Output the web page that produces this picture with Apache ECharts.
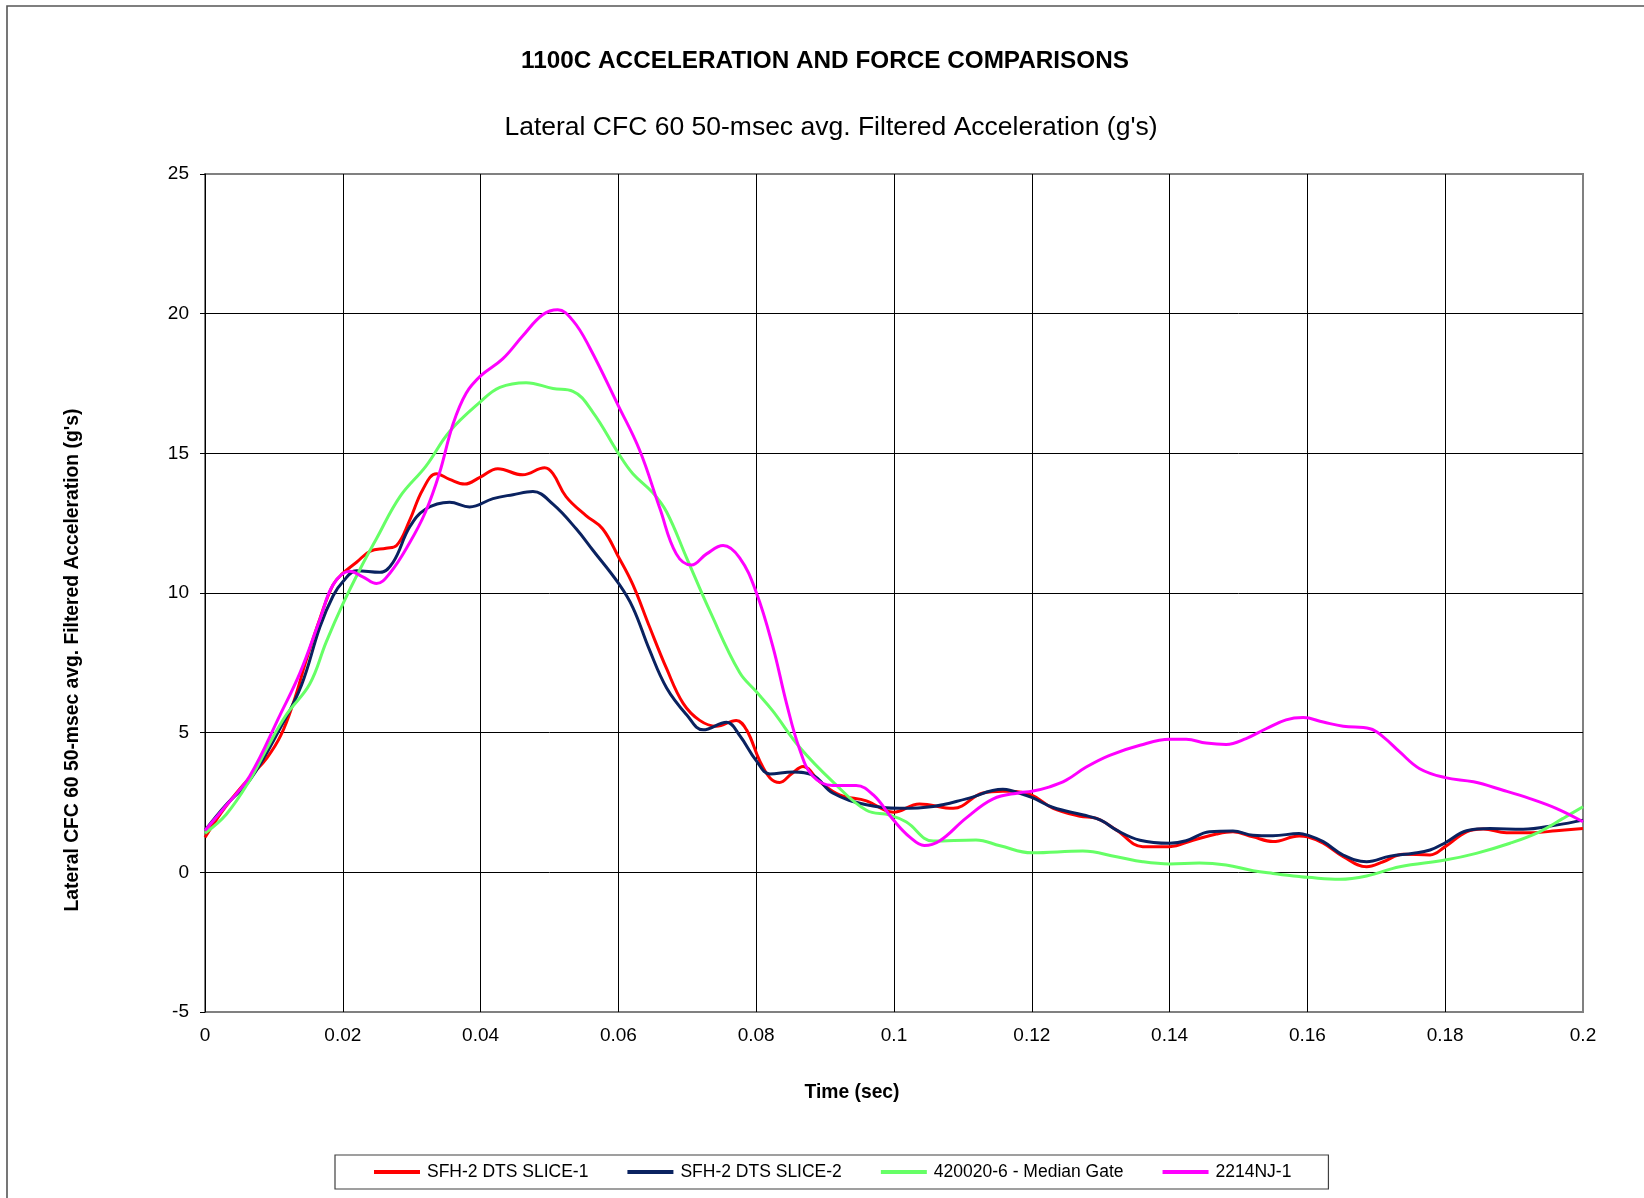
<!DOCTYPE html>
<html>
<head>
<meta charset="utf-8">
<script src="https://cdn.jsdelivr.net/npm/echarts@6/dist/echarts.min.js"></script>
<style>
html,body{margin:0;padding:0;background:#fff;}
#chart{width:1644px;height:1198px;}
</style>
</head>
<body>
<div id="chart"></div>
<script>
// ---- Data ----
const seriesNames = ['SFH-2 DTS SLICE-1', 'SFH-2 DTS SLICE-2', '420020-6 - Median Gate', '2214NJ-1'];
const xTicks = [0, 0.02, 0.04, 0.06, 0.08, 0.1, 0.12, 0.14, 0.16, 0.18, 0.2];
const yTicks = [-5, 0, 5, 10, 15, 20, 25];

const slice1Time = [0,0.003,0.0065,0.009,0.011,0.0128,0.0147,0.0167,0.0186,0.02,0.022,0.024,0.0263,0.0278,0.0297,0.0316,0.0336,0.0355,0.0377,0.0399,0.0425,0.0461,0.0493,0.0505,0.0524,0.0553,0.0577,0.06,0.0621,0.0645,0.067,0.0694,0.0718,0.0742,0.0771,0.0786,0.0805,0.082,0.0834,0.0851,0.0868,0.0892,0.0921,0.096,0.0999,0.1037,0.1086,0.1129,0.1158,0.1168,0.12,0.1231,0.127,0.1294,0.1323,0.1361,0.14,0.1434,0.1468,0.1492,0.1521,0.155,0.1588,0.16,0.1623,0.1652,0.1686,0.171,0.1739,0.1778,0.18,0.1831,0.1855,0.1889,0.1928,0.1961,0.2];
const slice1Acc = [1.25,2.35,3.4,4.1,4.9,6.05,7.6,9.1,10.3,10.7,11.1,11.5,11.6,11.7,12.6,13.7,14.27,14.07,13.9,14.14,14.45,14.23,14.48,14.27,13.45,12.77,12.3,11.3,10.3,8.8,7.29,6.05,5.44,5.23,5.44,5.1,4.0,3.38,3.22,3.52,3.79,3.25,2.77,2.56,2.15,2.45,2.29,2.84,2.9,2.9,2.76,2.29,2.01,1.93,1.51,0.92,0.92,1.15,1.37,1.45,1.27,1.1,1.3,1.27,1.04,0.56,0.2,0.38,0.65,0.62,0.92,1.45,1.55,1.42,1.42,1.49,1.57];

const slice2Time = [0,0.003,0.0065,0.011,0.014,0.0167,0.0186,0.02,0.022,0.0254,0.0273,0.0297,0.032,0.0355,0.0384,0.0418,0.0447,0.0476,0.0505,0.0539,0.0563,0.06,0.0621,0.0645,0.067,0.0699,0.0723,0.0757,0.0776,0.08,0.082,0.0853,0.0882,0.0911,0.096,0.1008,0.1057,0.1105,0.1158,0.1168,0.12,0.1231,0.1275,0.13,0.1323,0.1357,0.14,0.1424,0.1458,0.1492,0.1521,0.155,0.1588,0.16,0.1623,0.1652,0.1686,0.172,0.1754,0.1778,0.18,0.1831,0.1865,0.1913,0.1961,0.2];
const slice2Acc = [1.5,2.4,3.3,5.2,6.7,8.8,9.9,10.4,10.8,10.74,11.1,12.36,13.0,13.25,13.08,13.38,13.52,13.63,13.18,12.29,11.53,10.35,9.48,7.97,6.6,5.64,5.1,5.37,4.9,4.0,3.52,3.59,3.48,2.84,2.42,2.29,2.36,2.63,2.97,2.94,2.68,2.32,2.05,1.87,1.51,1.15,1.04,1.13,1.45,1.48,1.33,1.31,1.39,1.33,1.1,0.62,0.38,0.58,0.68,0.8,1.06,1.49,1.57,1.54,1.69,1.87];

const gateTime = [0,0.0031,0.0065,0.0089,0.0118,0.0152,0.0176,0.02,0.0225,0.0249,0.0283,0.0321,0.0355,0.04,0.0428,0.0466,0.0505,0.0534,0.0563,0.06,0.0621,0.065,0.067,0.0699,0.0733,0.0776,0.08,0.0824,0.0863,0.0911,0.096,0.0994,0.1018,0.1057,0.1119,0.1154,0.12,0.1274,0.1323,0.1361,0.14,0.1443,0.1482,0.1521,0.155,0.1588,0.16,0.1647,0.1686,0.1734,0.18,0.1845,0.1894,0.1937,0.1971,0.2];
const gateAcc = [1.4,2.08,3.3,4.4,5.64,6.74,8.25,9.6,10.85,11.95,13.45,14.55,15.78,16.85,17.36,17.53,17.32,17.22,16.47,15.0,14.27,13.59,12.9,11.26,9.34,7.15,6.47,5.78,4.48,3.25,2.22,2.05,1.8,1.12,1.16,0.95,0.7,0.76,0.56,0.38,0.3,0.33,0.26,0.06,-0.04,-0.15,-0.18,-0.25,-0.13,0.2,0.44,0.68,1.04,1.45,1.93,2.35];

const nj1Time = [0,0.0031,0.0065,0.0109,0.0138,0.0167,0.0186,0.021,0.0229,0.0249,0.0268,0.0297,0.032,0.034,0.036,0.0379,0.04,0.0432,0.0461,0.049,0.0512,0.0534,0.0558,0.06,0.0631,0.066,0.0684,0.0706,0.0728,0.0752,0.0776,0.08,0.0824,0.0844,0.0863,0.0882,0.0911,0.0945,0.097,0.0999,0.1023,0.1044,0.1066,0.1105,0.1144,0.1182,0.12,0.1226,0.125,0.1279,0.1313,0.1357,0.14,0.1424,0.1453,0.1482,0.1511,0.154,0.1569,0.1594,0.1623,0.1652,0.1691,0.171,0.1734,0.1763,0.18,0.1841,0.1884,0.1923,0.1961,0.2];
const nj1Acc = [1.5,2.4,3.45,5.64,7.15,9.07,10.3,10.78,10.58,10.34,10.7,11.8,12.9,14.27,16.05,17.15,17.77,18.38,19.2,19.96,20.14,19.75,18.8,16.7,15.1,13.04,11.4,11.0,11.4,11.7,11.26,10.03,8.1,6.05,4.41,3.45,3.11,3.11,2.77,1.88,1.26,0.96,1.12,1.95,2.63,2.85,2.9,3.06,3.3,3.77,4.19,4.55,4.76,4.76,4.63,4.58,4.79,5.14,5.46,5.54,5.38,5.23,5.14,4.85,4.31,3.71,3.39,3.24,2.94,2.64,2.29,1.81];

const seriesColors = ['#FF0000', '#0A2260', '#66FF66', '#FF00FF'];

// ---- Build ----
function zip(t, v) { return t.map((x, i) => [x, v[i]]); }
const seriesData = [zip(slice1Time, slice1Acc), zip(slice2Time, slice2Acc), zip(gateTime, gateAcc), zip(nj1Time, nj1Acc)];

const FONT = '"Liberation Sans", Arial, sans-serif';
const chart = echarts.init(document.getElementById('chart'), null, {renderer: 'canvas'});
const option = {
  animation: false,
  backgroundColor: '#ffffff',
  grid: {
    left: 205, right: 61, top: 174, bottom: 186,
    show: true, borderColor: '#808080', borderWidth: 2, backgroundColor: 'transparent'
  },
  xAxis: {
    type: 'value', min: xTicks[0], max: xTicks[xTicks.length - 1], interval: 0.02,
    axisLine: {show: false},
    axisTick: {show: false},
    axisLabel: {
      color: '#000', fontFamily: FONT, fontSize: 19, margin: 14,
      formatter: v => { const r = Math.round(v * 1000) / 1000; return xTicks.indexOf(r) >= 0 ? String(r) : ''; }
    },
    splitLine: {show: true, showMinLine: false, showMaxLine: false, lineStyle: {color: '#000', width: 1}}
  },
  yAxis: {
    type: 'value', min: yTicks[0], max: yTicks[yTicks.length - 1], interval: 5,
    axisLine: {show: true, onZero: false, lineStyle: {color: '#000', width: 1}},
    axisTick: {show: true, inside: false, length: 5, lineStyle: {color: '#000', width: 1}},
    axisLabel: {color: '#000', fontFamily: FONT, fontSize: 19, margin: 16},
    splitLine: {show: true, showMinLine: false, showMaxLine: false, lineStyle: {color: '#000', width: 1}}
  },
  legend: {
    left: 335, top: 1155,
    orient: 'horizontal',
    data: seriesNames,
    icon: 'rect',
    itemWidth: 46, itemHeight: 4, itemGap: 39,
    padding: [8, 37, 8, 39],
    borderColor: '#404040', borderWidth: 1.2,
    textStyle: {color: '#000', fontFamily: FONT, fontSize: 17.5, padding: [0, 0, 0, 2]}
  },
  graphic: [
    {type: 'rect', shape: {x: 7, y: 6, width: 1720, height: 1300}, style: {fill: 'none', stroke: '#555', lineWidth: 1.6}, silent: true},
    {type: 'text', x: 825, y: 61, style: {text: '1100C ACCELERATION AND FORCE COMPARISONS', font: 'bold 24.3px ' + FONT, fill: '#000', align: 'center', verticalAlign: 'middle'}},
    {type: 'text', x: 831, y: 128, style: {text: "Lateral CFC 60 50-msec avg. Filtered Acceleration (g's)", font: '26.5px ' + FONT, fill: '#000', align: 'center', verticalAlign: 'middle'}},
    {type: 'text', x: 852, y: 1093, style: {text: 'Time (sec)', font: 'bold 19.3px ' + FONT, fill: '#000', align: 'center', verticalAlign: 'middle'}},
    {type: 'text', x: 73, y: 660, rotation: Math.PI / 2, style: {text: "Lateral CFC 60 50-msec avg. Filtered Acceleration (g's)", font: 'bold 19.3px ' + FONT, fill: '#000', align: 'center', verticalAlign: 'middle'}}
  ],
  series: seriesNames.map((name, i) => ({
    name: name,
    type: 'line',
    data: seriesData[i],
    symbol: 'none',
    showSymbol: false,
    smooth: 0.4,
    color: seriesColors[i],
    lineStyle: {color: seriesColors[i], width: 3},
    itemStyle: {color: seriesColors[i]},
    z: 2 + i
  }))
};
chart.setOption(option);
</script>
</body>
</html>
